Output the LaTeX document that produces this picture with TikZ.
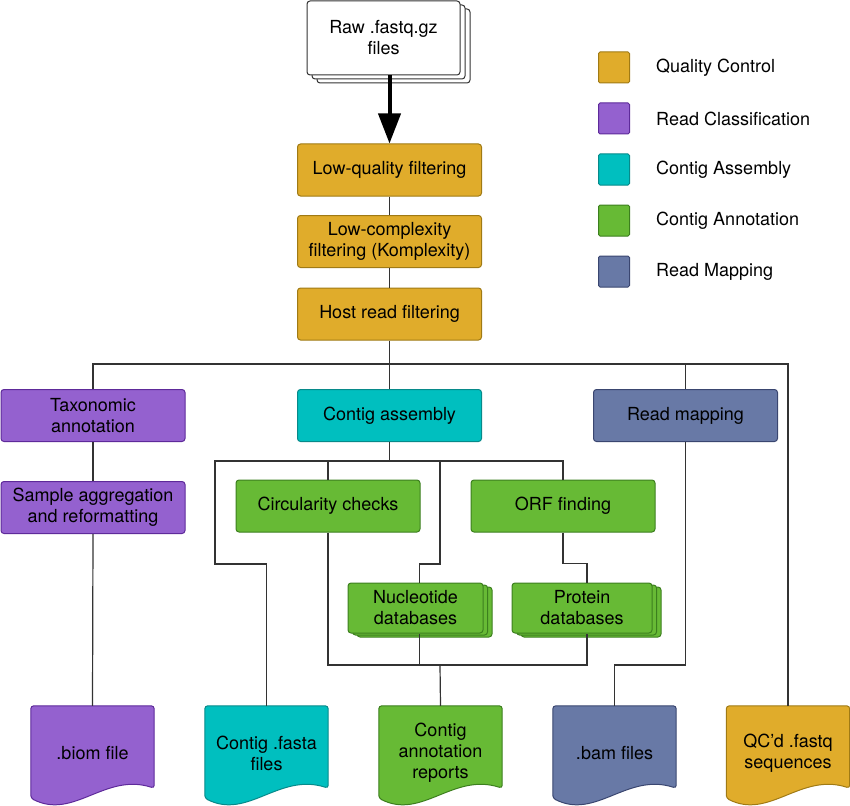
\documentclass[tikz,border=0pt]{standalone}
\usepackage{fontspec}
\setmainfont{TeX Gyre Heros}
\usetikzlibrary{arrows.meta, shadows, backgrounds, calc}

\definecolor{qcfill}{HTML}{E0AC2B}
\definecolor{qcline}{HTML}{A07A14}
\definecolor{rcfill}{HTML}{9461CF}
\definecolor{rcline}{HTML}{5E2A9A}
\definecolor{cafill}{HTML}{00BFBF}
\definecolor{caline}{HTML}{078A8A}
\definecolor{anfill}{HTML}{67BA35}
\definecolor{anline}{HTML}{3C7F1E}
\definecolor{rmfill}{HTML}{6879A6}
\definecolor{rmline}{HTML}{3A4670}
\definecolor{connline}{HTML}{333333}

\tikzset{
  qccol/.style={fill=qcfill, draw=qcline},
  rccol/.style={fill=rcfill, draw=rcline},
  cacol/.style={fill=cafill, draw=caline},
  ancol/.style={fill=anfill, draw=anline},
  rmcol/.style={fill=rmfill, draw=rmline},
  stepbox/.style={rectangle, rounded corners=3pt, line width=1pt, minimum width=184pt, minimum height=52pt, align=center, inner sep=2pt},
  dbbox/.style={stepbox, ancol, minimum height=50pt, double copy shadow={shadow xshift=4.5pt, shadow yshift=-2pt}},
  docnode/.style={rectangle, minimum width=123pt, minimum height=94pt, align=center, inner sep=0pt},
  legbox/.style={rectangle, rounded corners=1.5pt, line width=1pt, minimum size=31pt, inner sep=0pt},
  conn/.style={draw=connline, line width=1.2pt},
}

\begin{document}
\begin{tikzpicture}[x=1pt, y=-1pt, font=\fontsize{18}{21}\selectfont]
  \useasboundingbox (0,0) rectangle (850,805);

  % Input files
  \node[stepbox, fill=white, draw=black!80, minimum width=153pt, minimum height=74pt, double copy shadow={shadow xshift=5pt, shadow yshift=-4pt}] (raw) at (383.5,38) {Raw .fastq.gz\\files};

  % Quality control
  \node[stepbox, qccol] (lqf) at (389.5,170) {Low-quality filtering};
  \node[stepbox, qccol] (lcf) at (389.5,241.5) {Low-complexity\\filtering (Komplexity)};
  \node[stepbox, qccol] (hrf) at (389.5,314) {Host read filtering};

  % Second row
  \node[stepbox, rccol] (tax) at (93,415.5) {Taxonomic\\annotation};
  \node[stepbox, cacol] (cas) at (389.5,415.5) {Contig assembly};
  \node[stepbox, rmcol] (rmap) at (685.5,415.5) {Read mapping};

  % Third row
  \node[stepbox, rccol] (sagg) at (93,507.5) {Sample aggregation\\and reformatting};
  \node[stepbox, ancol] (circ) at (328,506) {Circularity checks};
  \node[stepbox, ancol] (orf) at (563,506) {ORF finding};

  % Databases
  \node[dbbox, minimum width=135pt] (ndb) at (415.5,608) {Nucleotide\\databases};
  \node[dbbox, minimum width=140pt] (pdb) at (582,608) {Protein\\databases};

  % Outputs
  \foreach \n/\x/\t in {biom/92.5/{.biom file}, fasta/266.5/{Contig .fasta\\files}, report/440.5/{Contig\\annotation\\reports}, bam/614.5/{.bam files}, qcfq/788/{QC'd .fastq\\sequences}} {
    \node[docnode] (\n) at (\x,753) {\t};
  }
  \begin{pgfonlayer}{background}
    \foreach \n/\s in {biom/rccol, fasta/cacol, report/ancol, bam/rmcol, qcfq/qccol} {
      \draw[\s, line width=1pt, rounded corners=3pt] ($(\n.south west)+(0,-2)$) -- (\n.north west) -- (\n.north east) -- ($(\n.south east)+(0,-12)$) .. controls +(-49,-16) and +(43,22) .. ($(\n.south west)+(0,-2)$) -- cycle;
    }
  \end{pgfonlayer}

  % Legend
  \foreach \i/\s/\t in {0/qccol/Quality Control, 1/rccol/Read Classification, 2/cacol/Contig Assembly, 3/ancol/Contig Annotation, 4/rmcol/Read Mapping} {
    \node[legbox, \s] (leg\i) at (614,67.5+51*\i) {};
    \node[anchor=west, inner sep=0pt] (legt\i) at (656,67.5+51*\i) {\t};
  }

  % Connectors
  \coordinate (bus) at (389.5,364);
  \coordinate (cabus) at (389.5,461);
  \coordinate (abus) at (440,665);
  \draw[line width=4pt, -{Triangle[length=30pt,width=22pt]}] (raw.south -| lqf.north) -- (lqf.north);
  \draw[conn] (lqf) -- (lcf);
  \draw[conn] (lcf) -- (hrf);
  \draw[conn] (hrf) -- (cas);
  \draw[conn] (tax.north) |- (bus) -| (qcfq.north);
  \draw[conn] (rmap.north) -- (rmap.north |- bus);
  \draw[conn] (tax) -- (sagg);
  \draw[conn] (sagg.south) -- (biom.north);
  \draw[conn] (cas.south) -- (cabus);
  \draw[conn] (fasta.north) |- (215,564) -- (215,461) -| (orf.north);
  \draw[conn] (circ.north) -- (circ.north |- cabus);
  \draw[conn] (440,461) -- (440,564) -| ([xshift=4pt]ndb.north);
  \draw[conn] (orf.south) -- ++(0,31) -| ([xshift=5pt]pdb.north);
  \draw[conn] (circ.south) |- (abus) -| ([xshift=5pt]pdb.south);
  \draw[conn] ([xshift=4pt]ndb.south) -- ([xshift=4pt]ndb.south |- abus);
  \draw[conn] (report.north) -- (abus);
  \draw[conn] (rmap.south) -- (rmap.south |- abus) -| (bam.north);
\end{tikzpicture}
\end{document}
